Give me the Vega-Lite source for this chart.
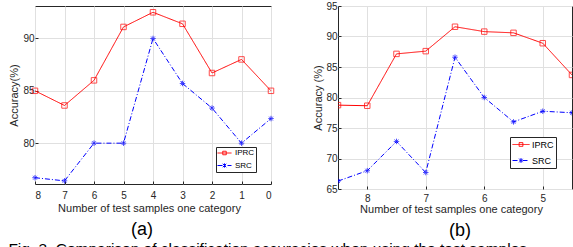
{
  "$schema": "https://vega.github.io/schema/vega-lite/v6.json",
  "padding": {"left": 8, "top": 0, "right": 0, "bottom": 0},
  "spacing": 35,
  "resolve": {"scale": {"color": "independent", "strokeDash": "independent"}, "legend": {"color": "independent", "strokeDash": "independent"}},
  "config": {
    "font": "Liberation Sans",
    "view": {"stroke": "#262626", "strokeWidth": 1},
    "axis": {
      "domain": false,
      "labelColor": "#262626",
      "titleColor": "#262626",
      "labelFontSize": 10,
      "titleFontSize": 11,
      "titleFontWeight": "normal",
      "gridColor": "#e0e0e0",
      "tickColor": "#262626",
      "tickSize": -3,
      "labelPadding": 4,
      "labelOverlap": false
    }
  },
  "title": {
    "text": "Fig. 3. Comparison of classification accuracies when using the test samples",
    "orient": "bottom",
    "anchor": "start",
    "fontSize": 15.5,
    "fontWeight": "normal",
    "color": "black",
    "offset": 1,
    "limit": 540,
    "dx": 0
  },
  "datasets": {
    "a": [
      {"method": "IPRC", "n": 8, "acc": 85},
      {"method": "IPRC", "n": 7, "acc": 83.6},
      {"method": "IPRC", "n": 6, "acc": 86},
      {"method": "IPRC", "n": 5, "acc": 91.1},
      {"method": "IPRC", "n": 4, "acc": 92.5},
      {"method": "IPRC", "n": 3, "acc": 91.4},
      {"method": "IPRC", "n": 2, "acc": 86.7},
      {"method": "IPRC", "n": 1, "acc": 88},
      {"method": "IPRC", "n": 0, "acc": 85},
      {"method": "SRC", "n": 8, "acc": 76.7},
      {"method": "SRC", "n": 7, "acc": 76.4},
      {"method": "SRC", "n": 6, "acc": 80},
      {"method": "SRC", "n": 5, "acc": 80},
      {"method": "SRC", "n": 4, "acc": 90},
      {"method": "SRC", "n": 3, "acc": 85.7},
      {"method": "SRC", "n": 2, "acc": 83.35},
      {"method": "SRC", "n": 1, "acc": 80},
      {"method": "SRC", "n": 0, "acc": 82.35}
    ],
    "b": [
      {"method": "IPRC", "n": 8.5, "acc": 78.75},
      {"method": "IPRC", "n": 8, "acc": 78.65},
      {"method": "IPRC", "n": 7.5, "acc": 87.15},
      {"method": "IPRC", "n": 7, "acc": 87.6},
      {"method": "IPRC", "n": 6.5, "acc": 91.6},
      {"method": "IPRC", "n": 6, "acc": 90.8},
      {"method": "IPRC", "n": 5.5, "acc": 90.6},
      {"method": "IPRC", "n": 5, "acc": 88.9},
      {"method": "IPRC", "n": 4.5, "acc": 83.7},
      {"method": "SRC", "n": 8.5, "acc": 66.3},
      {"method": "SRC", "n": 8, "acc": 68.0},
      {"method": "SRC", "n": 7.5, "acc": 72.8},
      {"method": "SRC", "n": 7, "acc": 67.7},
      {"method": "SRC", "n": 6.5, "acc": 86.6},
      {"method": "SRC", "n": 6, "acc": 80.0},
      {"method": "SRC", "n": 5.5, "acc": 76.0},
      {"method": "SRC", "n": 5, "acc": 77.75},
      {"method": "SRC", "n": 4.5, "acc": 77.5}
    ]
  },
  "hconcat": [
    {
      "width": 236,
      "height": 178,
      "title": {"text": "(a)", "orient": "bottom", "fontSize": 18, "fontWeight": "normal", "color": "black", "offset": 8, "dx": -11},
      "data": {"name": "a"},
      "encoding": {
        "x": {"field": "n", "type": "quantitative", "scale": {"domain": [0, 8], "reverse": true, "nice": false},
              "axis": {"values": [8, 7, 6, 5, 4, 3, 2, 1, 0], "format": "d", "title": "Number of test samples one category", "titleX": 114, "titlePadding": 2, "labelPadding": 9}},
        "y": {"field": "acc", "type": "quantitative", "scale": {"domain": [76.1, 93.1], "nice": false, "zero": false},
              "axis": {"values": [80, 85, 90], "title": "Accuracy(%)", "titlePadding": 3}}
      },
      "layer": [
        {
          "mark": {"type": "line", "strokeWidth": 1},
          "encoding": {
            "color": {"field": "method", "type": "nominal", "scale": {"domain": ["IPRC", "SRC"], "range": ["#ff0000", "#0000ff"]},
              "legend": {
                "title": null, "orient": "none", "legendX": 181, "legendY": 141,
                "strokeColor": "#262626", "fillColor": "white", "padding": 1,
                "symbolType": "M-1,0L1,0", "symbolSize": 196, "labelFontSize": 8, "labelColor": "black", "labelOffset": 3,
                "clipHeight": 10, "rowPadding": 2.5, "symbolStrokeWidth": 1,
                "encode": {"symbols": {"update": {
                  "shape": {"signal": "datum.value === 'IPRC' ? 'M-1,0L1,0M-0.25,-0.25L0.25,-0.25L0.25,0.25L-0.25,0.25Z' : 'M-1,0L1,0M-0.25,-0.25L0.25,0.25M-0.25,0.25L0.25,-0.25M0,-0.3L0,0.3'"},
                  "strokeDash": {"signal": "datum.value === 'SRC' ? [4, 2, 1, 2] : [1, 0]"},
                  "fill": {"value": "transparent"}
                }}}
              }},
            "strokeDash": {"field": "method", "type": "nominal", "scale": {"domain": ["IPRC", "SRC"], "range": [[1, 0], [5, 2, 1, 2]]}, "legend": null}
          }
        },
        {
          "transform": [{"filter": "datum.method === 'IPRC'"}],
          "mark": {"type": "point", "shape": "square", "filled": false, "strokeWidth": 1, "size": 30, "color": "#ff0000"},
          "encoding": {}
        },
        {
          "transform": [{"filter": "datum.method === 'SRC'"}],
          "mark": {"type": "point", "shape": "M-1,0L1,0M0,-1L0,1M-0.7,-0.7L0.7,0.7M-0.7,0.7L0.7,-0.7", "filled": false, "strokeWidth": 1, "size": 30, "color": "#0000ff"},
          "encoding": {}
        }
      ]
    },
    {
      "width": 234,
      "height": 183,
      "title": {"text": "(b)", "orient": "bottom", "fontSize": 18, "fontWeight": "normal", "color": "black", "offset": 8, "dx": 5},
      "data": {"name": "b"},
      "encoding": {
        "x": {"field": "n", "type": "quantitative", "scale": {"domain": [4.5, 8.5], "reverse": true, "nice": false},
              "axis": {"values": [8, 7, 6, 5], "format": "d", "title": "Number of test samples one category", "titleX": 113, "titlePadding": 0, "labelPadding": 7}},
        "y": {"field": "acc", "type": "quantitative", "scale": {"domain": [65, 95], "nice": false, "zero": false},
              "axis": {"values": [65, 70, 75, 80, 85, 90, 95], "title": "Accuracy (%)", "titlePadding": 2}}
      },
      "layer": [
        {
          "mark": {"type": "line", "strokeWidth": 1, "clip": true},
          "encoding": {
            "color": {"field": "method", "type": "nominal", "scale": {"domain": ["IPRC", "SRC"], "range": ["#ff0000", "#0000ff"]},
              "legend": {
                "title": null, "orient": "none", "legendX": 172, "legendY": 131,
                "strokeColor": "#262626", "fillColor": "white", "padding": 2,
                "symbolType": "M-1,0L1,0", "symbolSize": 289, "labelFontSize": 9, "labelColor": "black", "labelOffset": 2,
                "clipHeight": 11, "rowPadding": 5, "symbolStrokeWidth": 1,
                "encode": {"symbols": {"update": {
                  "shape": {"signal": "datum.value === 'IPRC' ? 'M-1,0L1,0M-0.22,-0.22L0.22,-0.22L0.22,0.22L-0.22,0.22Z' : 'M-1,0L1,0M-0.22,-0.22L0.22,0.22M-0.22,0.22L0.22,-0.22M0,-0.28L0,0.28'"},
                  "strokeDash": {"signal": "datum.value === 'SRC' ? [4, 2, 1, 2] : [1, 0]"},
                  "fill": {"value": "transparent"}
                }}}
              }},
            "strokeDash": {"field": "method", "type": "nominal", "scale": {"domain": ["IPRC", "SRC"], "range": [[1, 0], [5, 2, 1, 2]]}, "legend": null}
          }
        },
        {
          "transform": [{"filter": "datum.method === 'IPRC'"}],
          "mark": {"type": "point", "shape": "square", "filled": false, "strokeWidth": 1, "size": 30, "color": "#ff0000", "clip": true},
          "encoding": {}
        },
        {
          "transform": [{"filter": "datum.method === 'SRC'"}],
          "mark": {"type": "point", "shape": "M-1,0L1,0M0,-1L0,1M-0.7,-0.7L0.7,0.7M-0.7,0.7L0.7,-0.7", "filled": false, "strokeWidth": 1, "size": 30, "color": "#0000ff", "clip": true},
          "encoding": {}
        }
      ]
    }
  ]
}
